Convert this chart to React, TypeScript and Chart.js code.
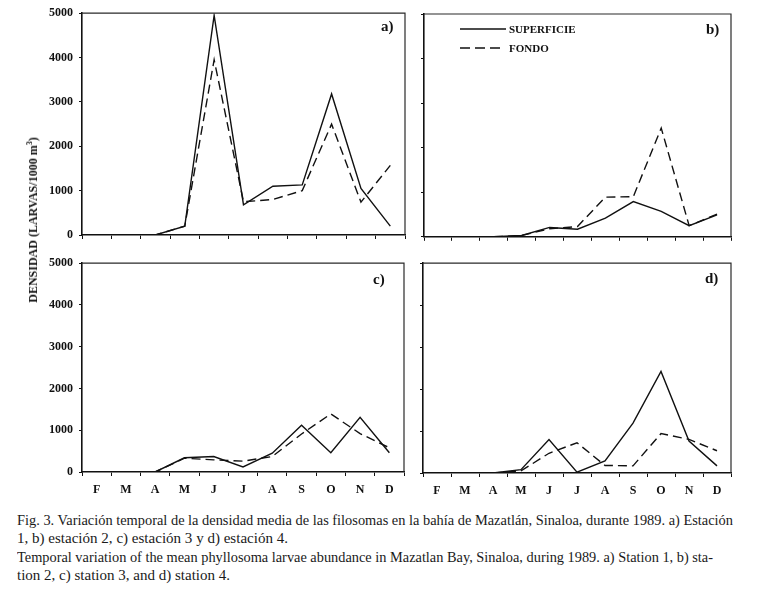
import React, { useEffect, useLayoutEffect, useRef } from 'react';
import { Chart, registerables } from 'chart.js';

Chart.register(...registerables);

const SERIF = '"Liberation Serif", "Times New Roman", serif';

// ---- data ----
const months = ['F', 'M', 'A', 'M', 'J', 'J', 'A', 'S', 'O', 'N', 'D'];
const yTickValues = [0, 1000, 2000, 3000, 4000, 5000];

const aSuperficie = [0, 0, 0, 200, 4950, 680, 1100, 1130, 3180, 1050, 200];
const aFondo = [0, 0, 0, 200, 3950, 750, 800, 1000, 2500, 740, 1570];

const bSuperficie = [0, 0, 0, 30, 210, 170, 420, 790, 570, 250, 490];
const bFondo = [0, 0, 0, 30, 180, 230, 890, 900, 2440, 250, 510];

const cSuperficie = [0, 0, 0, 340, 370, 120, 450, 1120, 460, 1310, 460];
const cFondo = [0, 0, 0, 330, 290, 260, 370, 910, 1390, 920, 580];

const dSuperficie = [0, 0, 0, 80, 800, 20, 290, 1190, 2420, 760, 170];
const dFondo = [0, 0, 0, 50, 470, 720, 180, 170, 940, 800, 530];

const seriesNames = ['SUPERFICIE', 'FONDO'];
const panelLetters = ['a)', 'b)', 'c)', 'd)'];

const captionLines = [
  'Fig. 3. Variación temporal de la densidad media de las filosomas en la bahía de Mazatlán, Sinaloa, durante 1989. a) Estación',
  '1, b) estación 2, c) estación 3 y d) estación 4.',
  'Temporal variation of the mean phyllosoma larvae abundance in Mazatlan Bay, Sinaloa, during 1989. a) Station 1, b) sta-',
  'tion 2, c) station 3, and d) station 4.',
];

// ---- layout ----
type PanelSpec = {
  cx: number; cy: number; cw: number; ch: number;
  yw: number; xh: number; pt: number; pr: number;
  sup: number[]; fon: number[];
  showY: boolean; showX: boolean;
};

const panels: PanelSpec[] = [
  { cx: 0, cy: 0, cw: 412, ch: 250, yw: 82, xh: 15, pt: 12, pr: 7, sup: aSuperficie, fon: aFondo, showY: true, showX: false },
  { cx: 412, cy: 0, cw: 350, ch: 250, yw: 12, xh: 13, pt: 14, pr: 31, sup: bSuperficie, fon: bFondo, showY: false, showX: false },
  { cx: 0, cy: 250, cw: 412, ch: 255, yw: 82, xh: 33, pt: 9, pr: 8, sup: cSuperficie, fon: cFondo, showY: true, showX: true },
  { cx: 412, cy: 250, cw: 350, ch: 255, yw: 11, xh: 32, pt: 10, pr: 31, sup: dSuperficie, fon: dFondo, showY: false, showX: true },
];

const labelPos = [
  { left: 381, top: 19 },
  { left: 706, top: 22 },
  { left: 373, top: 272 },
  { left: 705, top: 271 },
];

const captionLayout = [
  { top: 512, width: 716 },
  { top: 530, width: 271 },
  { top: 549, width: 696 },
  { top: 567, width: 213 },
];

const boxPlugin = {
  id: 'boxFrame',
  afterDraw(chart: any) {
    const { ctx, chartArea: a } = chart;
    ctx.save();
    ctx.strokeStyle = '#2a2a2a';
    ctx.lineWidth = 1.2;
    ctx.beginPath();
    ctx.moveTo(a.left, a.top);
    ctx.lineTo(a.right, a.top);
    ctx.lineTo(a.right, a.bottom);
    ctx.stroke();
    ctx.restore();
  },
};

function Panel({ spec }: { spec: PanelSpec }) {
  const ref = useRef<HTMLCanvasElement>(null);
  useEffect(() => {
    if (!ref.current) return;
    const chart = new Chart(ref.current, {
      type: 'line',
      data: {
        labels: months,
        datasets: [
          { label: seriesNames[0], data: spec.sup, borderColor: '#111', borderWidth: 1.4, pointRadius: 0, fill: false, tension: 0 },
          { label: seriesNames[1], data: spec.fon, borderColor: '#111', borderWidth: 1.4, borderDash: [9, 5], pointRadius: 0, fill: false, tension: 0 },
        ],
      },
      options: {
        animation: false,
        responsive: false,
        maintainAspectRatio: false,
        events: [],
        layout: { padding: { top: spec.pt, right: spec.pr, left: 0, bottom: 0 } },
        plugins: { legend: { display: false }, tooltip: { enabled: false }, title: { display: false } },
        scales: {
          x: {
            type: 'category',
            offset: true,
            grid: { display: true, offset: true, drawOnChartArea: false, drawTicks: true, tickLength: 4, color: '#111', lineWidth: 1 },
            border: { display: true, color: '#111', width: 1.6 },
            ticks: {
              color: '#111',
              font: { family: SERIF, size: 12, weight: 'bold' },
              padding: 7,
              autoSkip: false,
              maxRotation: 0,
              callback: (_v: any, i: number) => (spec.showX ? months[i] : ''),
            },
            afterFit: (s: any) => { s.height = spec.xh; },
          },
          y: {
            type: 'linear',
            min: 0,
            max: 5000,
            afterBuildTicks: (s: any) => { s.ticks = yTickValues.map((v) => ({ value: v })); },
            grid: { display: true, drawOnChartArea: false, drawTicks: true, tickLength: 3, color: '#111', lineWidth: 1 },
            border: { display: true, color: '#111', width: 1.6 },
            ticks: {
              color: '#111',
              font: { family: SERIF, size: 12, weight: 'bold' },
              padding: 6,
              callback: (v: any) => (spec.showY ? String(v) : ''),
            },
            afterFit: (s: any) => { s.width = spec.yw; },
          },
        },
      },
      plugins: [boxPlugin],
    } as any);
    return () => chart.destroy();
  }, [spec]);
  return (
    <canvas
      ref={ref}
      width={spec.cw}
      height={spec.ch}
      style={{ position: 'absolute', left: spec.cx, top: spec.cy, width: spec.cw, height: spec.ch }}
    />
  );
}

function CaptionLine({ text, top, width }: { text: string; top: number; width: number }) {
  const ref = useRef<HTMLSpanElement>(null);
  useLayoutEffect(() => {
    const el = ref.current;
    if (!el) return;
    el.style.transform = 'none';
    const w = el.getBoundingClientRect().width;
    if (w > 0) el.style.transform = `scaleX(${width / w})`;
  }, [text, width]);
  return (
    <span
      ref={ref}
      style={{
        position: 'absolute', left: 17, top, display: 'inline-block', whiteSpace: 'nowrap',
        fontFamily: SERIF, fontSize: 14, lineHeight: '18px', color: '#1a1a1a', transformOrigin: 'left top',
      }}
    >
      {text}
    </span>
  );
}

export default function App() {
  return (
    <div style={{ position: 'absolute', left: 0, top: 0, width: 769, height: 607, background: '#fff', overflow: 'hidden' }}>
      {panels.map((p, i) => <Panel key={i} spec={p} />)}

      {panelLetters.map((t, i) => (
        <div key={t} style={{ position: 'absolute', left: labelPos[i].left, top: labelPos[i].top, fontFamily: SERIF, fontWeight: 'bold', fontSize: 15, lineHeight: '15px', color: '#111' }}>{t}</div>
      ))}

      {/* legend in panel b */}
      <svg style={{ position: 'absolute', left: 458, top: 20, width: 50, height: 36 }} width={50} height={36}>
        <line x1={2} y1={9} x2={48} y2={9} stroke="#111" strokeWidth={1.4} />
        <line x1={2} y1={28} x2={45} y2={28} stroke="#111" strokeWidth={1.4} strokeDasharray="10,5" />
      </svg>
      <div style={{ position: 'absolute', left: 509, top: 22, fontFamily: SERIF, fontWeight: 'bold', fontSize: 11, lineHeight: '14px', color: '#111', whiteSpace: 'nowrap' }}>{seriesNames[0]}</div>
      <div style={{ position: 'absolute', left: 509, top: 41, fontFamily: SERIF, fontWeight: 'bold', fontSize: 11, lineHeight: '14px', color: '#111', whiteSpace: 'nowrap' }}>{seriesNames[1]}</div>

      {/* y-axis title */}
      <div style={{ position: 'absolute', left: 33, top: 220, width: 0, height: 0 }}>
        <div style={{ position: 'absolute', left: 0, top: 0, transform: 'translate(-50%, -50%) rotate(-90deg)', whiteSpace: 'nowrap', fontFamily: SERIF, fontWeight: 'bold', fontSize: 12, lineHeight: '14px', color: '#111' }}>
          DENSIDAD (LARVAS/1000 m<sup style={{ fontSize: 8, verticalAlign: 'super', lineHeight: 0 }}>3</sup>)
        </div>
      </div>

      {captionLines.map((t, i) => (
        <CaptionLine key={i} text={t} top={captionLayout[i].top} width={captionLayout[i].width} />
      ))}
    </div>
  );
}
